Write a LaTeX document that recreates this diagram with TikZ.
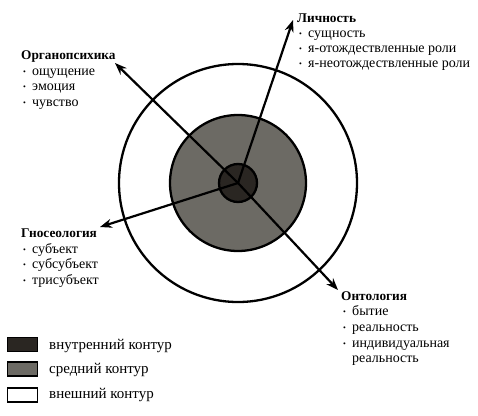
\documentclass[tikz,border=0pt]{standalone}
\usepackage{fontspec}
\setmainfont{Liberation Serif}
\usetikzlibrary{arrows.meta}
\definecolor{innerc}{HTML}{2A2622}
\definecolor{midc}{HTML}{6C6A64}
\newcommand{\bl}{\makebox[9pt][l]{\fontsize{8}{8}\selectfont\raisebox{1pt}{•}}}
\begin{document}
\begin{tikzpicture}[x=1pt,y=-1pt,font=\fontsize{14}{15}\selectfont,
 ring/.style={circle,draw,line width=2.3pt,inner sep=0},
 arr/.style={line width=2.2pt,-{Stealth[length=12pt,width=9pt]}},
 ttl/.style={anchor=base west,inner sep=0,font=\fontsize{13.3}{15}\selectfont\bfseries},
 itm/.style={anchor=base west,inner sep=0},
 lgd/.style={anchor=base west,inner sep=0,font=\fontsize{15}{16}\selectfont},
 key/.style={draw,line width=1.5pt,minimum width=30pt,minimum height=14pt,inner sep=0}]
\useasboundingbox (0,0) rectangle (478,415);
\coordinate (c) at (238,183);
\node[ring,minimum size=238pt,fill=white] (outer) at (c) {};
\node[ring,minimum size=136pt,fill=midc] (mid) at (c) {};
\node[ring,minimum size=38pt,fill=innerc] (inn) at (c) {};
\coordinate (tipO) at (115,63);
\coordinate (tipL) at (293,20);
\coordinate (tipG) at (100,227);
\coordinate (tipN) at (338,290);
\draw[arr] (c) -- (tipO);
\draw[arr] (c) -- (tipL);
\draw[arr] (c) -- (tipG);
\draw[arr] (c) -- (tipN);
% Organopsychika
\node[ttl] (org) at (21,59) {Органопсихика};
\node[itm] (o1) at (23,75) {\bl ощущение};
\node[itm] (o2) at (23,90) {\bl эмоция};
\node[itm] (o3) at (23,106) {\bl чувство};
% Lichnost
\node[ttl] (lic) at (297,22) {Личность};
\node[itm] (l1) at (299,37) {\bl сущность};
\node[itm] (l2) at (299,52) {\bl я-отождествленные роли};
\node[itm] (l3) at (299,67) {\bl я-неотождествленные роли};
% Gnoseologia
\node[ttl] (gno) at (21,237) {Гносеология};
\node[itm] (g1) at (23,253) {\bl субъект};
\node[itm] (g2) at (23,268) {\bl субсубъект};
\node[itm] (g3) at (23,284) {\bl трисубъект};
% Ontologia
\node[ttl] (ont) at (341,300) {Онтология};
\node[itm] (n1) at (343,315) {\bl бытие};
\node[itm] (n2) at (343,331) {\bl реальность};
\node[itm] (n3) at (343,347) {\bl индивидуальная};
\node[itm] (n4) at (352,362) {реальность};
% Legend
\node[key,fill=innerc] (k1) at (22.5,344.5) {};
\node[key,fill=midc] (k2) at (22.5,369) {};
\node[key,fill=white] (k3) at (22.5,395) {};
\node[lgd] (t1) at (49,349) {внутренний контур};
\node[lgd] (t2) at (49,373) {средний контур};
\node[lgd] (t3) at (49,398) {внешний контур};
\end{tikzpicture}
\end{document}
